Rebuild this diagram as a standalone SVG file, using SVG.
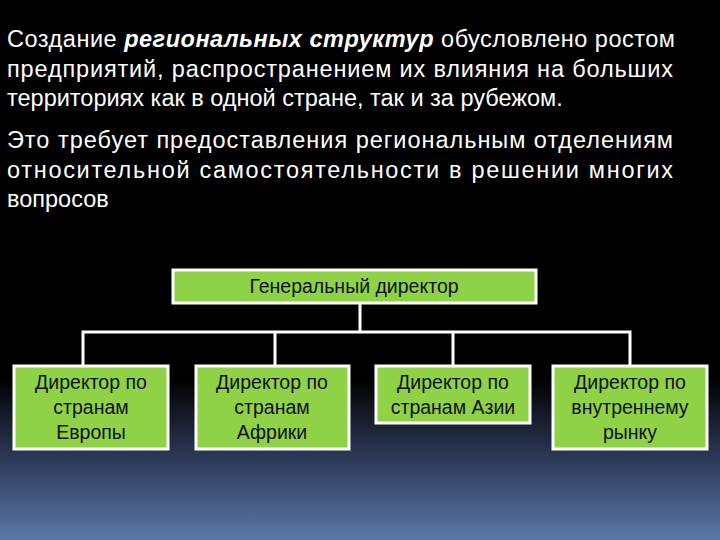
<svg xmlns="http://www.w3.org/2000/svg" width="720" height="540" viewBox="0 0 720 540">
<defs>
<linearGradient id="bg" x1="0" y1="0" x2="0" y2="1">
<stop offset="0" stop-color="#000"/><stop offset="0.7" stop-color="#000"/><stop offset="0.85" stop-color="#2c3a58"/><stop offset="1" stop-color="#5b78a8"/>
</linearGradient>
<style>
.t{font-family:"Liberation Sans",Arial,sans-serif;font-size:23.5px;fill:#fff}
.b{fill:#8fd246;stroke:#fff;stroke-width:3}
.n{font-family:"Liberation Sans",Arial,sans-serif;font-size:19.5px;fill:#111;text-anchor:middle}
.c{stroke:#fff;stroke-width:3;fill:none}
</style>
</defs>
<rect width="720" height="540" fill="url(#bg)"/>
<text class="t" x="7" y="47" textLength="668" lengthAdjust="spacing">Создание <tspan font-weight="bold" font-style="italic">региональных структур</tspan> обусловлено ростом</text>
<text class="t" x="7" y="77" textLength="666" lengthAdjust="spacing">предприятий, распространением их влияния на больших</text>
<text class="t" x="7" y="106">территориях как в одной стране, так и за рубежом.</text>
<text class="t" x="7" y="148" textLength="666" lengthAdjust="spacing">Это требует предоставления региональным отделениям</text>
<text class="t" x="7" y="178" textLength="666" lengthAdjust="spacing">относительной самостоятельности в решении многих</text>
<text class="t" x="7" y="207">вопросов</text>
<g id="connectors">
<path class="c" d="M360 303V332M83 366V332H630V366M275 332V366M453 332V366"/>
</g>
<g id="gd"><rect class="b" x="173" y="270" width="363" height="33"/><text class="n" x="354" y="293">Генеральный директор</text></g>
<g id="eu"><rect class="b" x="14" y="366" width="154" height="83"/><text class="n" x="91" y="389">Директор по<tspan x="91" dy="25">странам</tspan><tspan x="91" dy="25">Европы</tspan></text></g>
<g id="af"><rect class="b" x="196" y="366" width="153" height="83"/><text class="n" x="272" y="389">Директор по<tspan x="272" dy="25">странам</tspan><tspan x="272" dy="25">Африки</tspan></text></g>
<g id="as"><rect class="b" x="376" y="366" width="154" height="57"/><text class="n" x="453" y="389">Директор по<tspan x="453" dy="25">странам Азии</tspan></text></g>
<g id="in"><rect class="b" x="553" y="366" width="154" height="83"/><text class="n" x="630" y="389">Директор по<tspan x="630" dy="25">внутреннему</tspan><tspan x="630" dy="25">рынку</tspan></text></g>
</svg>
